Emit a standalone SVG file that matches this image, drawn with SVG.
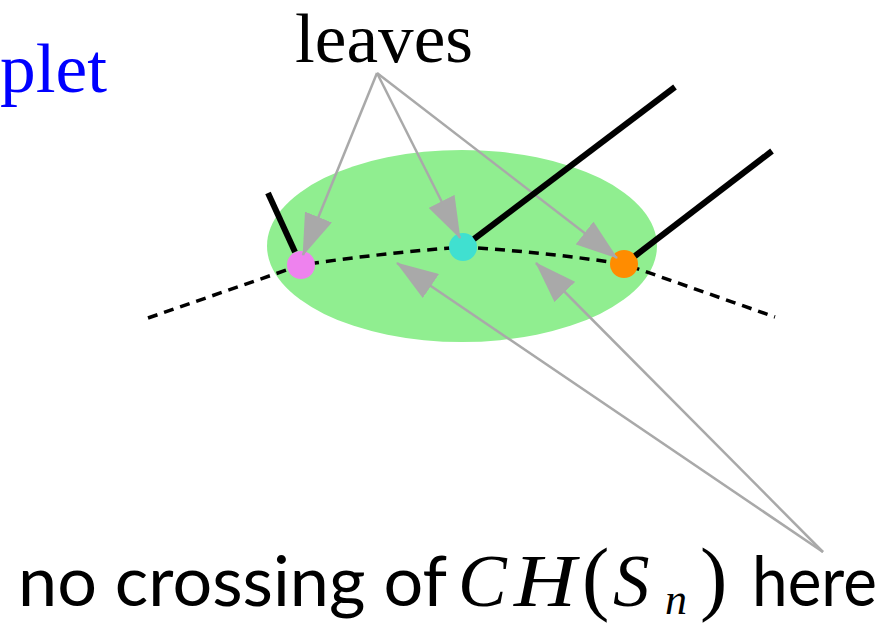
<svg xmlns="http://www.w3.org/2000/svg" width="885" height="624" viewBox="0 0 885 624">
<style>
.dash{fill:none;stroke:#000;stroke-width:3.5;stroke-dasharray:10 7}
.stem{stroke:#000;stroke-width:6;fill:none}
.ptr{stroke:#a9a9a9;stroke-width:2.5;fill:none;marker-end:url(#ah)}
.node{stroke:none}
.lbl{font-family:"Liberation Serif",serif;font-size:70px;fill:#000}
.sans{font-family:Lato,"Liberation Sans",sans-serif;font-size:70px;fill:#000}
.mi{font-family:"Liberation Serif",serif;font-style:italic;font-size:73px;fill:#000}
.mr{font-family:"Liberation Serif",serif;font-size:82px;fill:#000}
</style>
<defs>
<marker id="ah" markerUnits="userSpaceOnUse" viewBox="0 0 42 29" refX="41" refY="14.5" markerWidth="42" markerHeight="29" orient="auto">
<path d="M0,0 L42,14.5 L0,29 z" fill="#a9a9a9"/>
</marker>
</defs>
<rect width="885" height="624" fill="#fff"/>
<g id="hull">
<ellipse cx="462" cy="246" rx="195" ry="96" fill="#90ee90"/>
</g>
<g id="connectors">
<path class="dash" d="M148,318 L301,265 Q382,253 463,247 Q544,252 624,264 L775,317"/>
</g>
<g id="leaf-pink"><circle class="node" cx="301" cy="265" r="14" fill="#ee82ee"/></g>
<g id="leaf-cyan"><circle class="node" cx="463" cy="247" r="14" fill="#40e0d0"/></g>
<g id="leaf-orange"><circle class="node" cx="624" cy="264" r="14" fill="#ff8c00"/></g>
<g id="pointers">
<line class="ptr" x1="377" y1="73" x2="303" y2="255"/>
<line class="ptr" x1="377" y1="73" x2="460" y2="238"/>
<line class="ptr" x1="377" y1="73" x2="617" y2="258"/>
<line class="ptr" x1="823" y1="552" x2="397" y2="263"/>
<line class="ptr" x1="823" y1="552" x2="536" y2="263"/>
</g>
<g id="stems">
<line class="stem" x1="268" y1="193" x2="295" y2="252"/>
<line class="stem" x1="474" y1="239" x2="675" y2="87"/>
<line class="stem" x1="635" y1="256" x2="772" y2="151"/>
</g>
<g id="label-leaves"><text class="lbl" x="295" y="62" textLength="178" lengthAdjust="spacingAndGlyphs">leaves</text></g>
<g id="label-plet"><text class="lbl" x="0" y="92" style="fill:#0000ff" textLength="107" lengthAdjust="spacingAndGlyphs">plet</text></g>
<g id="label-bottom">
<text class="sans" x="18" y="606" textLength="429" lengthAdjust="spacingAndGlyphs">no crossing of</text>
<text class="mi" x="458" y="606">C</text>
<text class="mi" x="514" y="606" textLength="62" lengthAdjust="spacingAndGlyphs">H</text>
<text class="mr" x="582" y="605">(</text>
<text class="mi" x="613" y="606">S</text>
<text class="mi" x="665" y="614" style="font-size:44px">n</text>
<text class="mr" x="700" y="605">)</text>
<text class="sans" x="752" y="606" textLength="125" lengthAdjust="spacingAndGlyphs">here</text>
</g>
</svg>
